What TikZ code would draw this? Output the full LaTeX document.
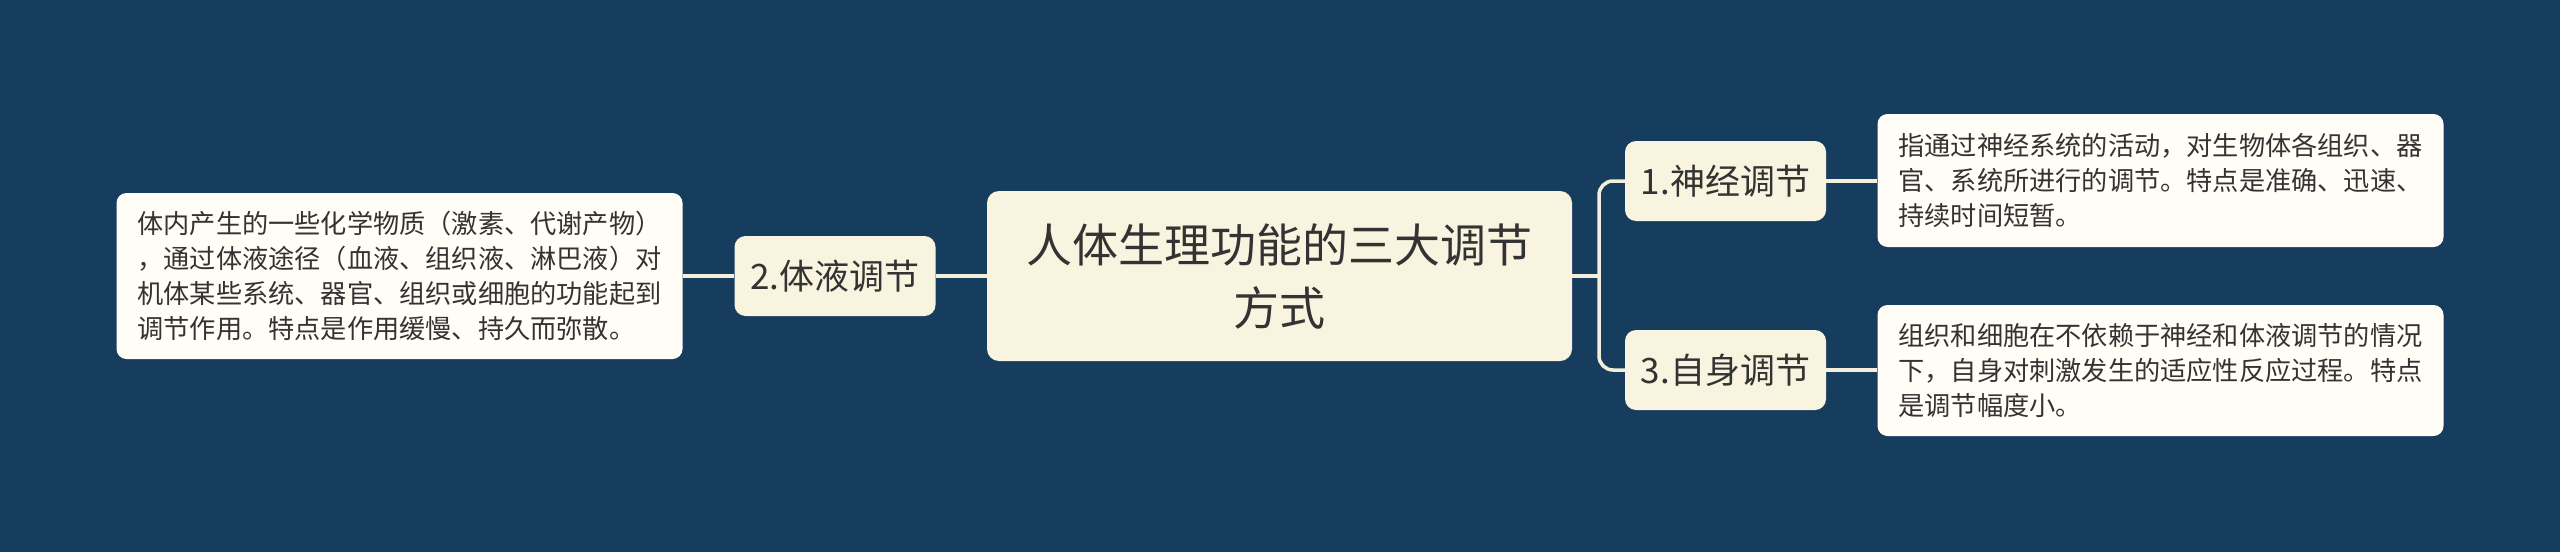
\documentclass[tikz,border=0pt]{standalone}
\usepackage{fontspec}
\setmainfont{Noto Sans CJK SC}
\definecolor{bgblue}{HTML}{173D5E}
\definecolor{rootfill}{HTML}{F9F4DF}
\definecolor{leaffill}{HTML}{FFFDF6}
\definecolor{linecol}{HTML}{F4EFDB}
\definecolor{txt}{HTML}{333333}
\begin{document}
\begin{tikzpicture}
[
x=1pt, y=-1pt,
root/.style={rectangle, rounded corners=12pt, fill=rootfill, text=txt, align=center, minimum width=585pt, minimum height=170pt, inner sep=0pt, font=\fontsize{46}{63}\selectfont},
branch/.style={rectangle, rounded corners=11pt, fill=rootfill, text=txt, minimum width=201pt, minimum height=80pt, inner sep=0pt, font=\fontsize{35}{40}\selectfont},
leaf/.style={rectangle, rounded corners=10pt, fill=leaffill, text=txt, align=left, minimum width=566pt, inner sep=0pt, font=\fontsize{26.2}{35}\selectfont},
link/.style={draw=linecol, line width=3.5pt},
bracket/.style={draw=linecol, line width=3.5pt, rounded corners=14pt}
]
\useasboundingbox (0,0) rectangle (2560,552);
\fill[bgblue] (0,0) rectangle (2560,552);

%Nodes
\node[root]   (root)  at (1279.5,276) {人体生理功能的三大调节\\方式};
\node[branch] (tiye)  at (835,276)    {2.体液调节};
\node[leaf, minimum height=166pt] (tiyeL) at (399.5,276)
  {体内产生的一些化学物质（激素、代谢产物）\\，通过体液途径（血液、组织液、淋巴液）对\\机体某些系统、器官、组织或细胞的功能起到\\调节作用。特点是作用缓慢、持久而弥散。};
\node[branch] (shenj) at (1725.5,181) {1.神经调节};
\node[branch] (zishen) at (1725.5,370) {3.自身调节};
\node[leaf, minimum height=133pt] (shenjL) at (2160.5,180.5)
  {指通过神经系统的活动，对生物体各组织、器\\官、系统所进行的调节。特点是准确、迅速、\\持续时间短暂。};
\node[leaf, minimum height=131pt] (zishenL) at (2160.5,370.5)
  {组织和细胞在不依赖于神经和体液调节的情况\\下，自身对刺激发生的适应性反应过程。特点\\是调节幅度小。};
\coordinate (jn) at (1599,276);

%Lines
\path[link]
(root.west)   -- (tiye.east)
(tiye.west)   -- (tiyeL.east)
(root.east)   -- (jn)
(shenj.east)  -- (shenjL.west |- shenj.east)
(zishen.east) -- (zishenL.west |- zishen.east);
\path[bracket] (jn) |- (shenj.west);
\path[bracket] (jn) |- (zishen.west);
\end{tikzpicture}
\end{document}
